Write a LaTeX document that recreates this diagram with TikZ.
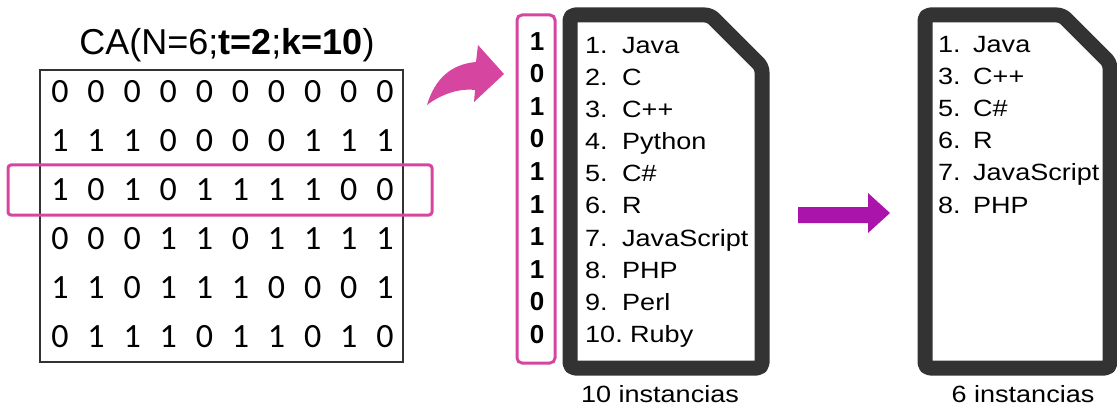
\documentclass[tikz,border=0pt]{standalone}
\usepackage{fontspec}
\setmainfont{Liberation Sans}
\newfontfamily\calfont{Carlito}
\newfontfamily\listfont[FakeStretch=1.15]{Liberation Sans}
\definecolor{pinkc}{RGB}{214,70,160}
\definecolor{purp}{RGB}{170,20,170}
\definecolor{docgray}{RGB}{51,51,51}
\begin{document}
\begin{tikzpicture}[x=1pt,y=-1pt,
 cell/.style={font=\calfont\fontsize{34}{34}\selectfont, anchor=base, inner sep=0pt},
 bit/.style={font=\fontsize{26}{26}\selectfont\bfseries, anchor=base, inner sep=0pt},
 item/.style={font=\listfont\fontsize{23.5}{24}\selectfont, anchor=base west, inner sep=0pt},
 lab/.style={font=\listfont\fontsize{23.5}{24}\selectfont, anchor=base, inner sep=0pt},
 doc/.style={draw=docgray, line width=15pt, rounded corners=5pt, line join=round},
]
\useasboundingbox (0,0) rectangle (1117,409);

% title
\node[anchor=base, inner sep=0pt, font=\fontsize{36}{36}\selectfont] (title) at (227,55) {CA(N=6;\textbf{t=2};\textbf{k=10})};

% matrix box
\node[draw=docgray, line width=1.2pt, minimum width=363pt, minimum height=292pt, inner sep=0pt] (ca) at (221.5,216) {};
\foreach \row [count=\r from 0] in {{0,0,0,0,0,0,0,0,0,0},{1,1,1,0,0,0,0,1,1,1},{1,0,1,0,1,1,1,1,0,0},{0,0,0,1,1,0,1,1,1,1},{1,1,0,1,1,1,0,0,0,1},{0,1,1,1,0,1,1,0,1,0}}{
  \foreach \v [count=\c from 0] in \row {
    \node[cell] (m-\r-\c) at ({60+36.1*\c},{103+48.8*\r}) {\v};
  }
}

% selection of row 3
\node[draw=pinkc, line width=3pt, rounded corners=3pt, minimum width=424pt, minimum height=50pt, inner sep=0pt] (sel) at (220,190) {};

% curved arrow
\fill[pinkc] (427,105) .. controls (435,78) and (452,64) .. (476,62) -- (478,45) -- (504,74) -- (474,102) -- (475,90) .. controls (458,88) and (440,95) .. (427,105) -- cycle;

% column box
\node[draw=pinkc, line width=3pt, rounded corners=5pt, minimum width=38pt, minimum height=348pt, inner sep=0pt] (col) at (536,189) {};
\foreach \v [count=\i from 0] in {1,0,1,0,1,1,1,1,0,0}{
  \node[bit] (b-\i) at (537,{50.5+32.5*\i}) {\v};
}

% document 1
\draw[doc] (570,15) -- (710,15) -- (762,67) -- (762,368) -- (570,368) -- cycle;
\foreach \n/\t [count=\i from 0] in {1./Java,2./C,3./C++,4./Python,5./C\#,6./R,7./JavaScript,8./PHP,9./Perl}{
  \node[item] (dn-\i) at (585,{54+32*\i}) {\n};
  \node[item] (dt-\i) at (622,{54+32*\i}) {\t};
}
\node[item] (dn-9) at (585,342) {10.};
\node[item] (dt-9) at (630,342) {Ruby};
\node[lab] (lab1) at (660,402) {10 instancias};

% straight arrow
\fill[purp] (798,207) -- (868,207) -- (868,193) -- (890,213) -- (868,233) -- (868,223) -- (798,223) -- cycle;

% document 2
\draw[doc] (925,15) -- (1062,15) -- (1110,63) -- (1110,368) -- (925,368) -- cycle;
\foreach \n/\t [count=\i from 0] in {1./Java,3./C++,5./C\#,6./R,7./JavaScript,8./PHP}{
  \node[item] (en-\i) at (938,{53+32*\i}) {\n};
  \node[item] (et-\i) at (973,{53+32*\i}) {\t};
}
\node[lab] (lab2) at (1023,402) {6 instancias};
\end{tikzpicture}
\end{document}
